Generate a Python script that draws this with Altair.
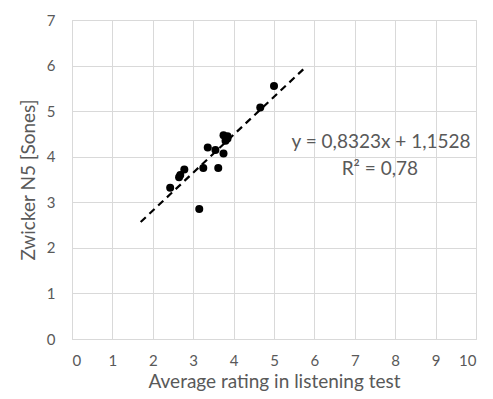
import altair as alt
import pandas as pd

# Data
rating = [5.0, 4.66, 3.75, 3.85, 3.8, 3.85, 3.36, 3.55, 3.75, 3.25, 3.62, 2.78, 2.68, 2.65, 2.43, 3.15]
sones = [5.55, 5.08, 4.47, 4.4, 4.35, 4.45, 4.2, 4.15, 4.07, 3.75, 3.75, 3.72, 3.6, 3.55, 3.32, 2.85]

trend_slope = 0.8323
trend_intercept = 1.1528
trend_x = [1.7, 5.8]

eq_text = ["y = 0,8323x + 1,1528", "R² = 0,78"]
eq_x = [7.65, 7.62]
eq_y = [4.19, 3.6]

FONT = "Lato"
GREY = "#595959"
GRID = "#d9d9d9"

pts = pd.DataFrame({"x": rating, "y": sones})
trend = pd.DataFrame({"x": trend_x, "y": [trend_slope * v + trend_intercept for v in trend_x]})
ann = pd.DataFrame({"t": eq_text, "x": eq_x, "y": eq_y})

xs = alt.Scale(domain=[0, 10], nice=False, zero=False)
ys = alt.Scale(domain=[0, 7], nice=False, zero=False)

xaxis = alt.Axis(values=list(range(0, 11)), title="Average rating in listening test",
                 grid=True, gridColor=GRID, domainColor=GRID, ticks=False,
                 labelPadding=14, titlePadding=4, labelFontSize=15, titleFontSize=19,
                 labelColor=GREY, titleColor=GREY, labelFont=FONT, titleFont=FONT,
                 titleFontWeight="normal")
yaxis = alt.Axis(values=list(range(0, 8)), title="Zwicker N5 [Sones]",
                 grid=True, gridColor=GRID, domainColor=GRID, ticks=False,
                 labelPadding=17, titlePadding=8, labelFontSize=15, titleFontSize=19,
                 labelColor=GREY, titleColor=GREY, labelFont=FONT, titleFont=FONT,
                 titleFontWeight="normal")

points = alt.Chart(pts).mark_circle(size=64, color="black", opacity=1).encode(
    x=alt.X("x:Q", scale=xs, axis=xaxis),
    y=alt.Y("y:Q", scale=ys, axis=yaxis),
)

line = alt.Chart(trend).mark_line(color="black", strokeWidth=2.2, strokeDash=[7, 5]).encode(
    x=alt.X("x:Q", scale=xs),
    y=alt.Y("y:Q", scale=ys),
)

text = alt.Chart(ann).mark_text(font=FONT, fontSize=19, color=GREY, baseline="alphabetic").encode(
    x=alt.X("x:Q", scale=xs),
    y=alt.Y("y:Q", scale=ys),
    text="t:N",
)

chart = (line + points + text).properties(
    width=404, height=319,
    autosize=alt.AutoSizeParams(type="none"),
    padding={"left": 64, "top": 12, "right": 9, "bottom": 52},
).configure_view(stroke=None).configure(background="white")

chart.save("out.html", embed_options={"renderer": "svg", "actions": False})
